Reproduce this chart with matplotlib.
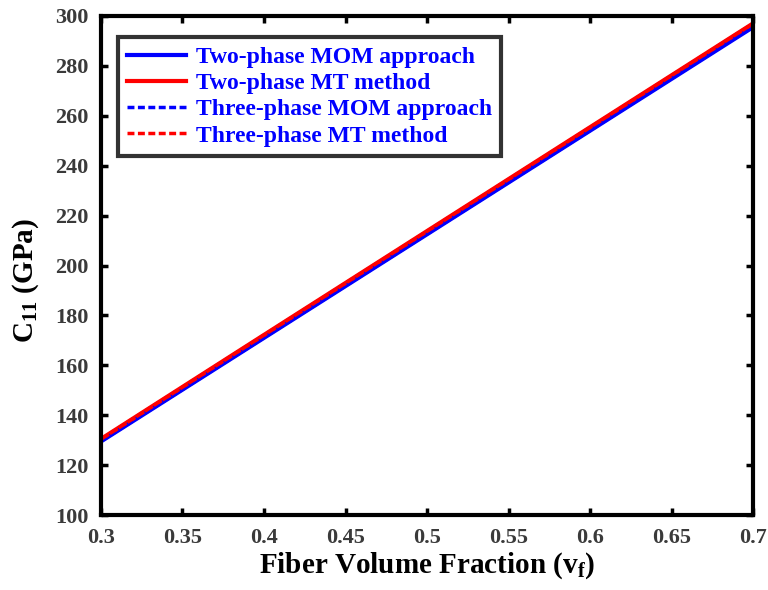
import matplotlib
matplotlib.use("Agg")
import matplotlib.pyplot as plt

plt.rcParams["font.family"] = ["Liberation Serif", "DejaVu Serif"]
plt.rcParams["mathtext.fontset"] = "custom"
plt.rcParams["mathtext.rm"] = "Liberation Serif:bold"
plt.rcParams["mathtext.it"] = "Liberation Serif:bold"
plt.rcParams["mathtext.bf"] = "Liberation Serif:bold"

vf = [0.3, 0.4, 0.5, 0.6, 0.7]
mom2 = [129.5, 171.0, 212.5, 254.0, 295.5]
mt2 = [130.5, 172.2, 213.8, 255.4, 297.0]
mom3 = [129.6, 171.1, 212.6, 254.1, 295.7]
mt3 = [130.4, 172.1, 213.7, 255.3, 296.9]

fig = plt.figure(figsize=(7.68, 5.9), dpi=100)
ax = fig.add_axes([0.1315, 0.127, 0.849, 0.846])

ax.plot(vf, mom2, color="#0000ff", lw=3, label="Two-phase MOM approach")
ax.plot(vf, mt2, color="#ff0000", lw=3, label="Two-phase MT method")
ax.plot(vf, mom3, color="#0000ff", lw=2.5, ls=(0, (2, 1)), label="Three-phase MOM approach")
ax.plot(vf, mt3, color="#ff0000", lw=2.5, ls=(0, (2, 1)), label="Three-phase MT method")

ax.set_xlim(0.3, 0.7)
ax.set_ylim(100, 300)
ax.set_xticks([0.3, 0.35, 0.4, 0.45, 0.5, 0.55, 0.6, 0.65, 0.7])
ax.set_xticklabels(["0.3", "0.35", "0.4", "0.45", "0.5", "0.55", "0.6", "0.65", "0.7"])
ax.set_yticks(range(100, 301, 20))
ax.tick_params(direction="in", top=True, right=True, length=5, width=2.5,
               labelsize=16, labelcolor="#3a3a3a")
ax.tick_params(axis="x", pad=9)
ax.tick_params(axis="y", pad=9)
for lab in ax.get_xticklabels() + ax.get_yticklabels():
    lab.set_fontweight("bold")
for sp in ax.spines.values():
    sp.set_linewidth(3)

ax.set_xlabel(r"Fiber Volume Fraction (v$_\mathbf{f}$)", fontsize=21, fontweight="bold",
              labelpad=2)
ax.set_ylabel(r"C$_\mathbf{11}$ (GPa)", fontsize=21, fontweight="bold")
ax.yaxis.set_label_coords(-0.092, 0.47)

leg = ax.legend(loc="upper left", bbox_to_anchor=(0.026, 0.958),
                prop={"weight": "bold", "size": 17}, frameon=True, fancybox=False,
                edgecolor="black", handlelength=2.5, borderpad=0.4,
                labelspacing=0.2, handletextpad=0.4, borderaxespad=0)
leg.get_frame().set_linewidth(3)
for t in leg.get_texts():
    t.set_color("#0000ff")

fig.savefig("out.png", dpi=100)
